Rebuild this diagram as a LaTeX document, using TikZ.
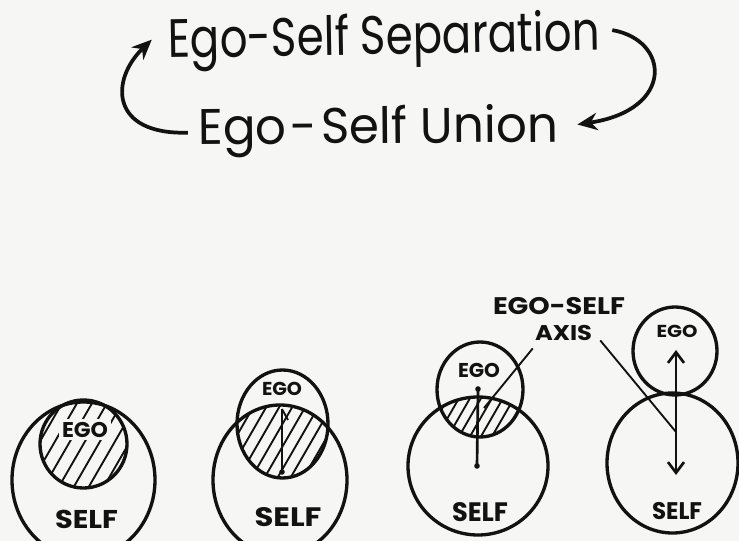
\documentclass[tikz,border=0pt]{standalone}
\usepackage{fontspec}
\setmainfont{Poppins}
\usepackage{graphicx}
\usetikzlibrary{arrows.meta,calc}
\definecolor{bg}{RGB}{246,246,244}
\definecolor{ink}{RGB}{18,18,18}
\newcommand\fitw[2]{\setbox0=\hbox{#2}\scalebox{\fpeval{0.75*#1/\the\wd0}}[1]{\box0}}
\begin{document}
\begin{tikzpicture}[x=0.75pt,y=-0.75pt,
  title/.style={inner sep=0pt, anchor=base west, text=ink},
  lbl/.style={inner sep=0pt, text=ink},
  ring/.style={draw=ink, line width=2.5pt},
  hatch/.style={draw=ink, line width=1.4pt},
  tarrow/.style={draw=ink, line width=2.8pt, -{Stealth[length=15pt,width=13pt]}},
  ptr/.style={draw=ink, line width=1.4pt},
  axisl/.style={draw=ink, line width=2pt},
  barbs/.style={{Straight Barb[length=8pt,width=12pt,line width=2pt]}-{Straight Barb[length=8pt,width=12pt,line width=2pt]}},
]
\fill[bg] (0,0) rectangle (739,541);
\useasboundingbox (0,0) rectangle (739,541);

% ---------- title ----------
\node[title, rotate=1, font=\fontsize{40.5}{44}\selectfont] (sep) at (168,58) {\fitw{432}{Ego-Self Separation}};
\node[title, rotate=0.5, font=\fontsize{37.5}{40}\selectfont] (uni) at (198,145) {\fitw{360}{Ego\kern3pt-\kern3pt Self Union}};
\draw[tarrow] ($(uni.west)+(-10,0)$) .. controls (110,135) and (110,80) .. ($(sep.west)+(-16,-5)$);
\draw[tarrow] ($(sep.east)+(12,-7)$) .. controls (670,40) and (675,110) .. ($(uni.east)+(19,-5)$);

% ---------- diagram 1 ----------
\draw[ring] (83.5,480) ellipse [x radius=71.5, y radius=78];
\begin{scope}
  \clip (83.5,444) ellipse [x radius=43.5, y radius=44];
  \foreach \i in {-7,...,7} \draw[hatch] ({83.5+\i*15-60},548) -- ++(120,-208);
\end{scope}
\draw[ring] (83.5,444) ellipse [x radius=43.5, y radius=44];
\node[lbl, fill=bg, inner sep=2pt, font=\bfseries\fontsize{16}{16}\selectfont] (ego1) at (85,429.5) {\fitw{46}{EGO}};
\node[lbl, font=\bfseries\fontsize{19.3}{20}\selectfont] (self1) at (86.5,519) {\fitw{63}{SELF}};

% ---------- diagram 2 ----------
\draw[ring] (280,480) ellipse [x radius=67, y radius=75];
\begin{scope}
  \clip (280,480) ellipse [x radius=67, y radius=75];
  \clip (282.5,424) ellipse [x radius=45.5, y radius=54];
  \foreach \i in {-8,...,8} \draw[hatch] ({282.5+\i*13-60},528) -- ++(120,-208);
\end{scope}
\draw[ring] (282.5,424) ellipse [x radius=45.5, y radius=54];
\node[lbl, font=\bfseries\fontsize{14}{14}\selectfont] (ego2) at (282,388.5) {\fitw{40}{EGO}};
\node[lbl, font=\bfseries\fontsize{20}{20}\selectfont] (self2) at (288,517.5) {\fitw{67}{SELF}};
\coordinate (a2top) at (282,409);
\coordinate (a2bot) at (282,472);
\draw[axisl] (a2top) -- (a2bot);
\draw[ptr] (a2top) -- ++(6,11);
\fill[ink] (a2bot) circle [radius=2.8];

% ---------- diagram 3 ----------
\draw[ring] (478,466) ellipse [x radius=70, y radius=69];
\begin{scope}
  \clip (478,466) ellipse [x radius=70, y radius=69];
  \clip (480,389.5) ellipse [x radius=43, y radius=47.5];
  \foreach \i in {-8,...,8} \draw[hatch] ({480+\i*11-60},504) -- ++(120,-208);
\end{scope}
\draw[ring] (480,389.5) ellipse [x radius=43, y radius=47.5];
\node[lbl, font=\bfseries\fontsize{15}{15}\selectfont] (ego3) at (479,370) {\fitw{42}{EGO}};
\node[lbl, font=\bfseries\fontsize{20}{20}\selectfont] (self3) at (480,512.5) {\fitw{56}{SELF}};
\coordinate (a3top) at (478,389);
\coordinate (a3bot) at (477,466);
\draw[axisl] (a3top) -- (a3bot);
\fill[ink] (a3top) circle [radius=2.8];
\fill[ink] (a3bot) circle [radius=2.8];

% ---------- diagram 4 ----------
\draw[ring] (672.5,463) ellipse [x radius=65.5, y radius=70];
\draw[ring] (675,351) ellipse [x radius=42, y radius=44];
\node[lbl, font=\bfseries\fontsize{13}{13}\selectfont] (ego4) at (677,331) {\fitw{41}{EGO}};
\node[lbl, font=\bfseries\fontsize{18}{18}\selectfont] (self4) at (677,511.5) {\fitw{50}{SELF}};
\coordinate (a4top) at (676,350);
\coordinate (a4bot) at (676,475);
\draw[axisl, barbs] (a4bot) -- (a4top);

% ---------- axis label ----------
\node[lbl, font=\bfseries\fontsize{18}{18}\selectfont] (axl1) at (559,306.5) {\fitw{132}{EGO-SELF}};
\node[lbl, font=\bfseries\fontsize{16}{16}\selectfont] (axl2) at (563.5,332.5) {\fitw{57}{AXIS}};
\coordinate (p1end) at (484,408);
\coordinate (p2end) at (676,432);
\draw[ptr] ($(axl2.south west)+(-2,8)$) -- (p1end);
\draw[ptr] ($(axl2.south east)+(8,0)$) -- (p2end);
\end{tikzpicture}
\end{document}
